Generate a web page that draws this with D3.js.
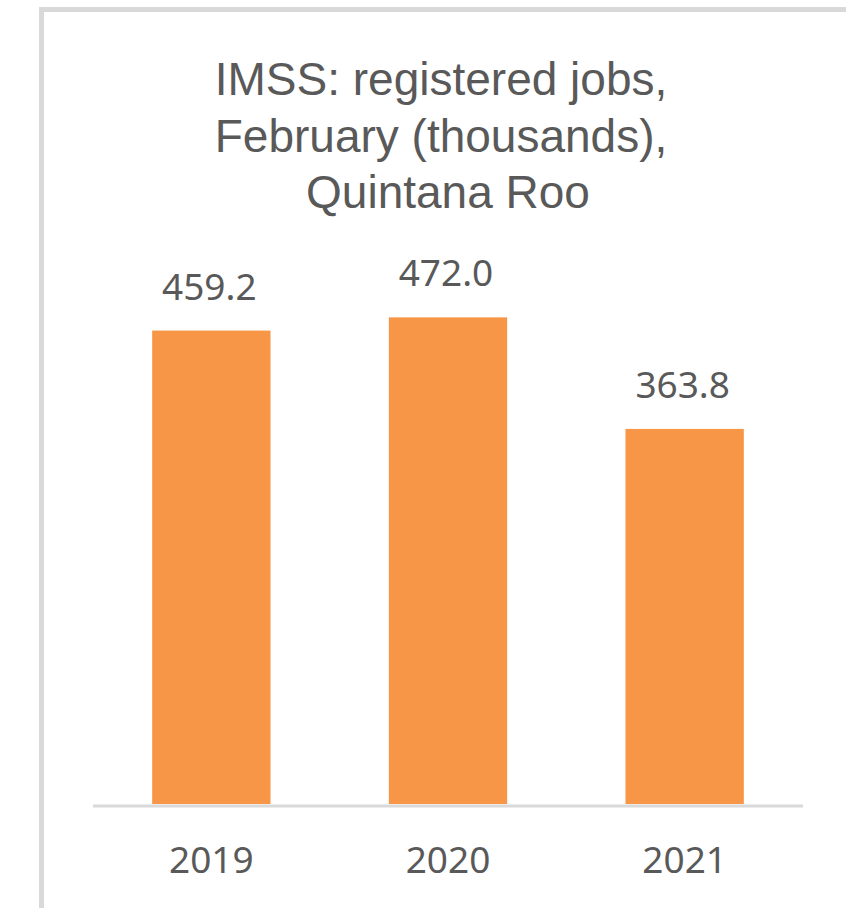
<!DOCTYPE html>
<html>
<head>
<meta charset="utf-8">
<script src="https://cdn.jsdelivr.net/npm/d3@7"></script>
<style>
  html, body { margin: 0; padding: 0; background: #fff; overflow: hidden; }
  svg { display: block; }
</style>
</head>
<body>
<script>
// IMSS registered jobs in Quintana Roo, February of each year (thousands)
const years = ["2019", "2020", "2021"];
const jobs = [459.2, 472.0, 363.8];
const titleLines = ["IMSS: registered jobs,", "February (thousands),", "Quintana Roo"];

const W = 846, H = 908;
const svg = d3.select("body").append("svg")
  .attr("width", W).attr("height", H);

// chart-area frame (left and top edges visible)
svg.append("rect")
  .attr("x", 41.5).attr("y", 9.5)
  .attr("width", W + 20).attr("height", H + 20)
  .attr("fill", "#fff")
  .attr("stroke", "#d9d9d9")
  .attr("stroke-width", 5);

const x = d3.scaleBand()
  .domain(years)
  .range([93, 803])
  .paddingInner(0.5)
  .paddingOuter(0.25);

const y = d3.scaleLinear()
  .domain([0, 500])
  .range([804, 288.5]);

// title
const titleX = [441, 441, 448];
svg.append("g").selectAll("text")
  .data(titleLines)
  .join("text")
  .attr("x", (d, i) => titleX[i])
  .attr("y", (d, i) => 95 + i * 56.5)
  .attr("text-anchor", "middle")
  .attr("font-family", "'Liberation Sans', Arial, sans-serif")
  .attr("font-size", 46)
  .attr("fill", "#595959")
  .text(d => d);

// bars
svg.append("g").selectAll("rect")
  .data(jobs)
  .join("rect")
  .attr("x", (d, i) => x(years[i]))
  .attr("y", d => y(d))
  .attr("width", x.bandwidth())
  .attr("height", d => y(0) - y(d))
  .attr("fill", "#f79646");

// value labels
svg.append("g").selectAll("text")
  .data(jobs)
  .join("text")
  .attr("x", (d, i) => x(years[i]) + x.bandwidth() / 2 - 2)
  .attr("y", d => y(d) - 31)
  .attr("text-anchor", "middle")
  .attr("font-family", "'Noto Sans', sans-serif")
  .attr("font-size", 37)
  .attr("fill", "#595959")
  .text(d => d.toFixed(1));

// category axis
const xAxis = svg.append("g")
  .attr("transform", "translate(0,806)")
  .call(d3.axisBottom(x).tickSize(0).tickPadding(0));
xAxis.select(".domain")
  .attr("stroke", "#d9d9d9")
  .attr("stroke-width", 3)
  .attr("d", "M93,0H803");
xAxis.selectAll(".tick text")
  .attr("y", 67)
  .attr("dy", null)
  .attr("font-family", "'Noto Sans', sans-serif")
  .attr("font-size", 37)
  .attr("fill", "#595959");
</script>
</body>
</html>
